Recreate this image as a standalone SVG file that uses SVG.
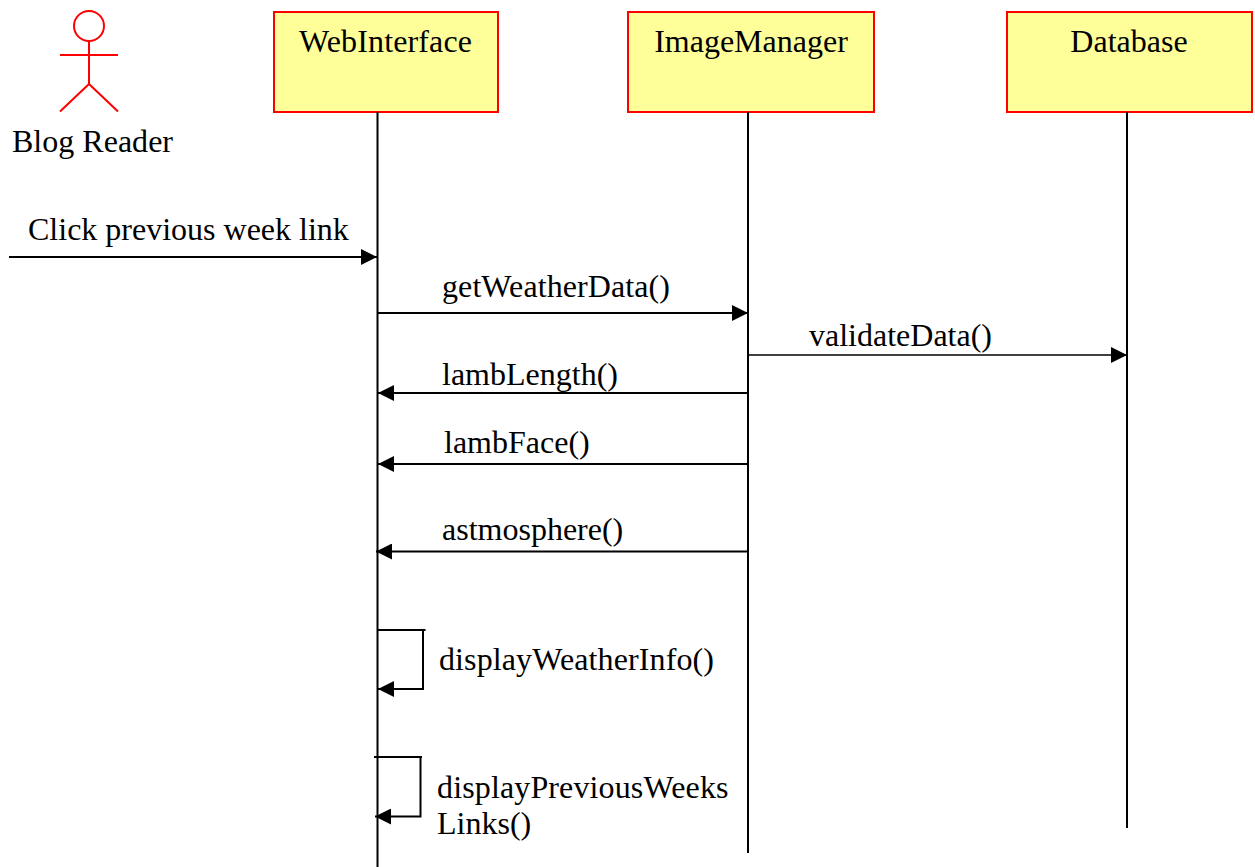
<svg xmlns="http://www.w3.org/2000/svg" width="1255" height="867" viewBox="0 0 1255 867">
<style>
text{font-family:"Liberation Serif",serif;font-size:32px;fill:#000}
.box{fill:#ffff99;stroke:#ff0000;stroke-width:2}
.actor{fill:none;stroke:#ff0000;stroke-width:2}
.l{fill:none;stroke:#000;stroke-width:2}
.m{fill:none;stroke:#000;stroke-width:2;marker-end:url(#a)}
</style>
<defs><marker id="a" markerUnits="userSpaceOnUse" markerWidth="16" markerHeight="16" refX="16" refY="8" orient="auto"><path d="M0 0L16 8L0 16Z" fill="#000"/></marker></defs>
<rect width="1255" height="867" fill="#fff"/>
<g id="actor-blog-reader">
<circle class="actor" cx="89" cy="26" r="15"/>
<path class="actor" d="M89 41V84M60 55H118M89 84L60 111.500M89 84L118 111.500"/>
<text x="12" y="152" textLength="161" lengthAdjust="spacing">Blog Reader</text>
</g>
<g id="node-webinterface"><rect class="box" x="274" y="12" width="224" height="100"/><text x="299" y="52" textLength="173" lengthAdjust="spacing">WebInterface</text></g>
<g id="node-imagemanager"><rect class="box" x="628" y="12" width="246" height="100"/><text x="751" y="52" text-anchor="middle">ImageManager</text></g>
<g id="node-database"><rect class="box" x="1007" y="12" width="245" height="100"/><text x="1129" y="52" text-anchor="middle">Database</text></g>
<g id="connectors">
<path class="l" d="M377.500 112V867M748 112V853M1127 112V828"/>
<path class="m" d="M9 257H377"/>
<path class="m" d="M377 313H748"/>
<path class="m" d="M748 355H1127" style="stroke-width:1.600"/>
<path class="m" d="M748 393H378"/>
<path class="m" d="M748 464H378"/>
<path class="m" d="M748 551.500H376"/>
<path class="l" d="M377 630H425.500"/>
<path class="m" d="M423 630V689H378"/>
<path class="l" d="M374 757H422"/>
<path class="m" d="M420.500 757V816.500H375"/>
</g>
<g id="labels">
<text x="28" y="240">Click previous week link</text>
<text x="442" y="296.500" textLength="228" lengthAdjust="spacing">getWeatherData()</text>
<text x="809" y="346">validateData()</text>
<text x="442" y="385">lambLength()</text>
<text x="444" y="453">lambFace()</text>
<text x="442" y="540">astmosphere()</text>
<text x="439" y="670" textLength="275" lengthAdjust="spacing">displayWeatherInfo()</text>
<text x="437" y="798" textLength="291.500" lengthAdjust="spacing">displayPreviousWeeks</text>
<text x="437" y="834">Links()</text>
</g>
</svg>
